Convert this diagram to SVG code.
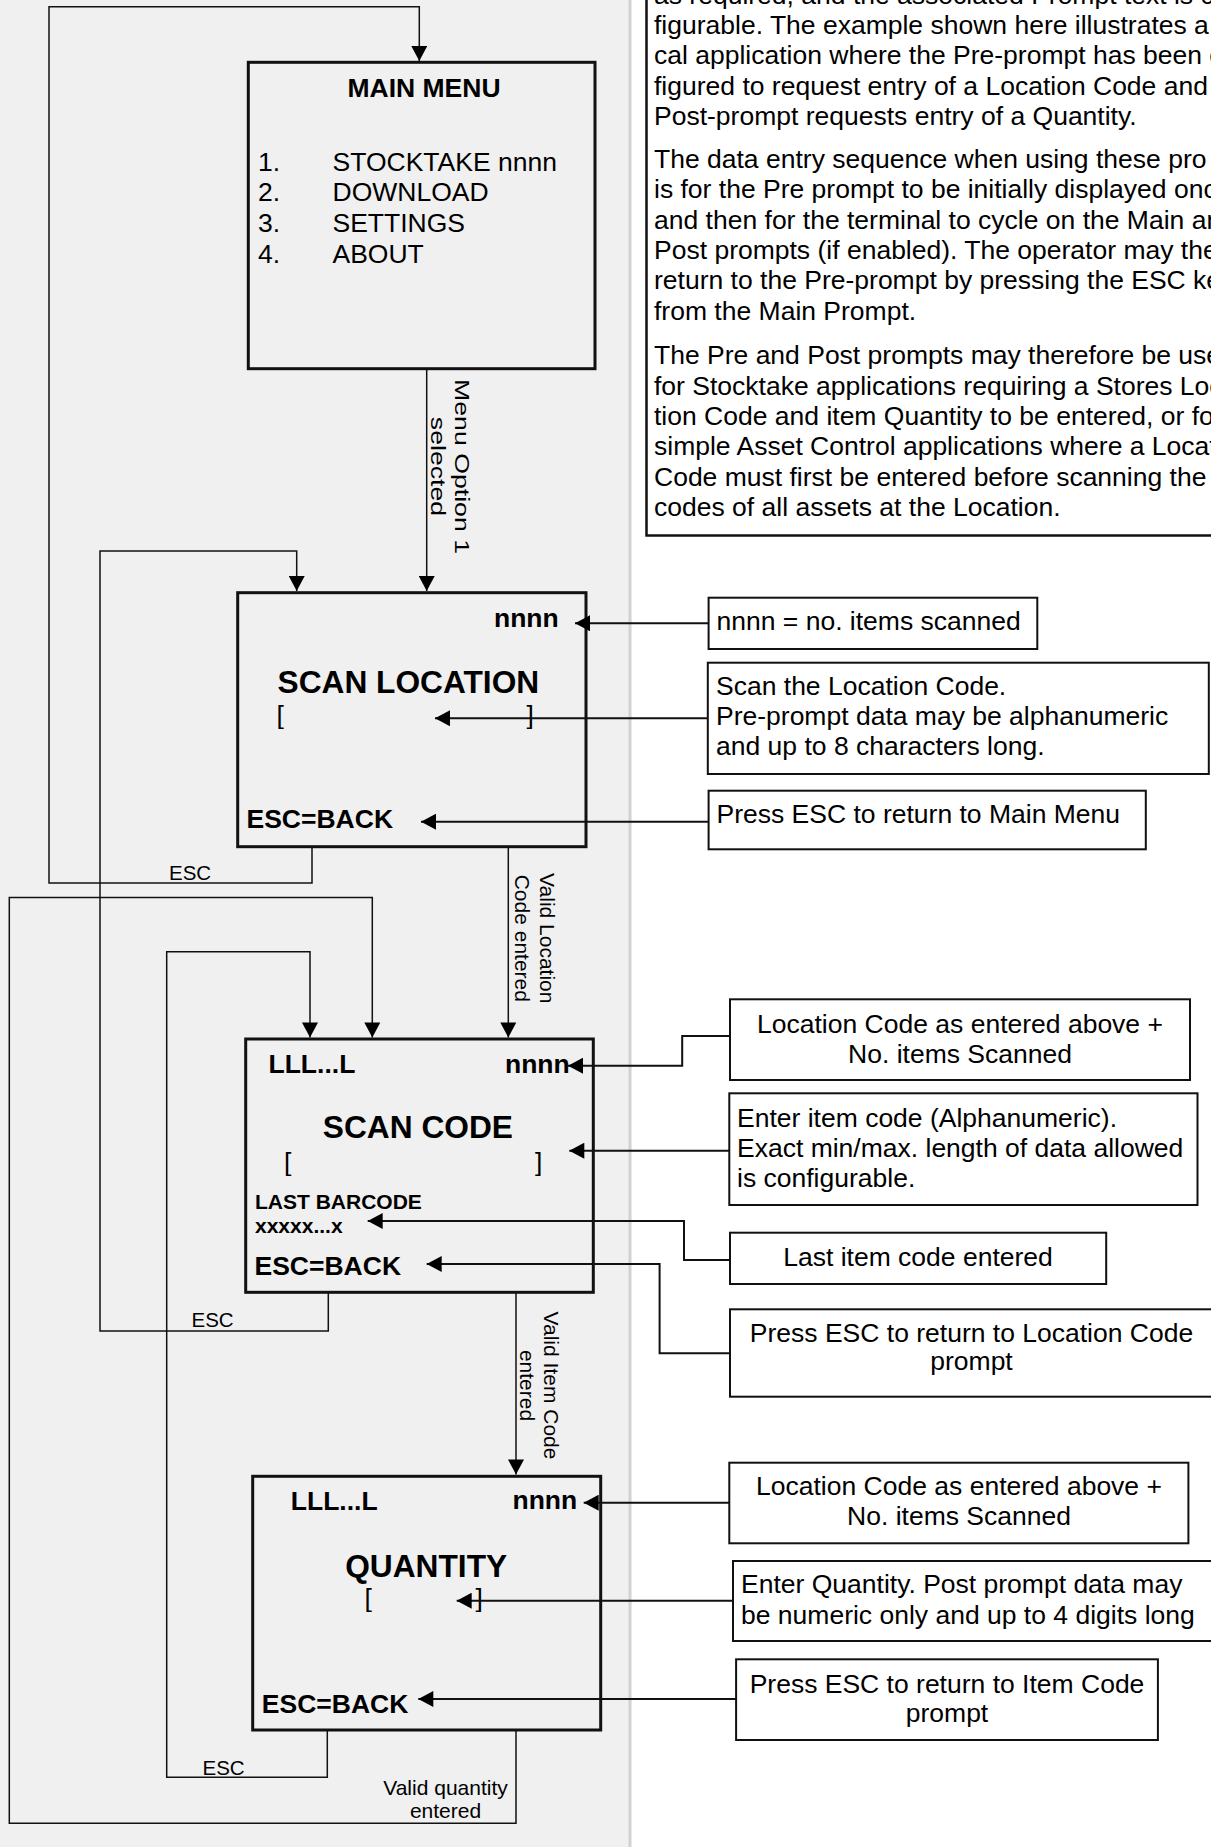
<svg xmlns="http://www.w3.org/2000/svg" width="1211" height="1847" viewBox="0 0 1211 1847">
<style>
.bg{fill:#f0f0f0}
.ln{fill:none;stroke:#111;stroke-width:1.5}
.cl{fill:none;stroke:#111;stroke-width:2}
.scr{fill:#f0f0f0;stroke:#111;stroke-width:3}
.cb{fill:#fff;stroke:#111;stroke-width:2}
text{font-family:"Liberation Sans",Arial,sans-serif;fill:#000}
.b{font-weight:bold}
.f26{font-size:26.5px}
.f32{font-size:31.7px}
.f21{font-size:21px}
.f20{font-size:20.5px}
.mid{text-anchor:middle}
</style>
<defs>
<marker id="ah" markerUnits="userSpaceOnUse" markerWidth="16" markerHeight="16" viewBox="0 0 15 16" refX="15" refY="8" orient="auto"><path d="M0,0 L15,8 L0,16 z" fill="#000"/></marker>
</defs>
<rect x="0" y="0" width="1211" height="1847" fill="#fff"/>
<rect class="bg" x="0" y="0" width="630" height="1847"/>
<line x1="630" y1="0" x2="630" y2="1847" stroke="#d2d2d2" stroke-width="3"/>

<g id="intro">
<rect x="646.5" y="-10" width="580" height="545.5" fill="#fff" stroke="#111" stroke-width="2.5"/>
<g class="f26">
<text x="654" y="3.5">as required, and the associated Prompt text is co</text>
<text x="654" y="33.9">figurable. The example shown here illustrates a t</text>
<text x="654" y="64.3">cal application where the Pre-prompt has been c</text>
<text x="654" y="94.6">figured to request entry of a Location Code and t</text>
<text x="654" y="125">Post-prompt requests entry of a Quantity.</text>
<text x="654" y="167.9">The data entry sequence when using these pro</text>
<text x="654" y="198.2">is for the Pre prompt to be initially displayed onc</text>
<text x="654" y="228.6">and then for the terminal to cycle on the Main an</text>
<text x="654" y="258.9">Post prompts (if enabled). The operator may the</text>
<text x="654" y="289.3">return to the Pre-prompt by pressing the ESC ke</text>
<text x="654" y="319.6">from the Main Prompt.</text>
<text x="654" y="364.3">The Pre and Post prompts may therefore be use</text>
<text x="654" y="394.6">for Stocktake applications requiring a Stores Loc</text>
<text x="654" y="425">tion Code and item Quantity to be entered, or for</text>
<text x="654" y="455.4">simple Asset Control applications where a Locat</text>
<text x="654" y="485.7">Code must first be entered before scanning the b</text>
<text x="654" y="516.1">codes of all assets at the Location.</text>
</g>
</g>

<g id="main-menu">
<rect class="scr" x="248.3" y="62.3" width="346.7" height="306.4"/>
<text class="b f26 mid" x="424" y="97.3">MAIN MENU</text>
<text class="f26" x="258" y="171">1.</text>
<text class="f26" x="332.5" y="171">STOCKTAKE nnnn</text>
<text class="f26" x="258" y="201">2.</text>
<text class="f26" x="332.5" y="201">DOWNLOAD</text>
<text class="f26" x="258" y="231.7">3.</text>
<text class="f26" x="332.5" y="231.7">SETTINGS</text>
<text class="f26" x="258" y="262.7">4.</text>
<text class="f26" x="332.5" y="262.7">ABOUT</text>
</g>

<g id="scan-location">
<rect class="scr" x="237.7" y="592.7" width="348.3" height="254"/>
<text class="b f26" x="494" y="626.7">nnnn</text>
<text class="b f32" x="277.5" y="692.7">SCAN LOCATION</text>
<text class="f26" x="276.5" y="724">[</text>
<text class="f26" x="526.5" y="724">]</text>
<text class="b f26" x="246.5" y="828.3">ESC=BACK</text>
</g>

<g id="scan-code">
<rect class="scr" x="245.7" y="1039" width="347.6" height="253.3"/>
<text class="b f26" x="268.5" y="1072.7">LLL...L</text>
<text class="b f26" x="505" y="1072.7">nnnn</text>
<text class="b f32" x="322.8" y="1138.3">SCAN CODE</text>
<text class="f26" x="284" y="1171">[</text>
<text class="f26" x="535" y="1171">]</text>
<text class="b f21" x="255" y="1209">LAST BARCODE</text>
<text class="b f21" x="255" y="1233.3">xxxxx...x</text>
<text class="b f26" x="254.5" y="1275">ESC=BACK</text>
</g>

<g id="quantity">
<rect class="scr" x="252.7" y="1476.3" width="348" height="253.7"/>
<text class="b f26" x="290.8" y="1510">LLL...L</text>
<text class="b f26" x="512.5" y="1509.3">nnnn</text>
<text class="b f32" x="345.2" y="1576.7">QUANTITY</text>
<text class="f26" x="364.5" y="1607">[</text>
<text class="f26" x="475.5" y="1607">]</text>
<text class="b f26" x="261.8" y="1713.3">ESC=BACK</text>
</g>

<g id="note-count">
<rect class="cb" x="708.6" y="597.7" width="328.7" height="51.3"/>
<text class="f26" x="716.5" y="630">nnnn = no. items scanned</text>
</g>
<g id="note-location">
<rect class="cb" x="707.8" y="662.7" width="501" height="111.3"/>
<text class="f26" x="716" y="695">Scan the Location Code.</text>
<text class="f26" x="716" y="725">Pre-prompt data may be alphanumeric</text>
<text class="f26" x="716" y="755">and up to 8 characters long.</text>
</g>
<g id="note-esc-main">
<rect class="cb" x="708.6" y="790.7" width="437.2" height="58.6"/>
<text class="f26" x="716.5" y="823.3">Press ESC to return to Main Menu</text>
</g>
<g id="note-loc-count-1">
<rect class="cb" x="730" y="999.3" width="460" height="80.7"/>
<text class="f26 mid" x="960" y="1032.7">Location Code as entered above +</text>
<text class="f26 mid" x="960" y="1063.3">No. items Scanned</text>
</g>
<g id="note-item">
<rect class="cb" x="729.3" y="1093.3" width="468.2" height="111.7"/>
<text class="f26" x="737" y="1126.7">Enter item code (Alphanumeric).</text>
<text class="f26" x="737" y="1157.3">Exact min/max. length of data allowed</text>
<text class="f26" x="737" y="1187.3">is configurable.</text>
</g>
<g id="note-last">
<rect class="cb" x="730" y="1232.7" width="376.2" height="51.3"/>
<text class="f26 mid" x="918" y="1266">Last item code entered</text>
</g>
<g id="note-esc-loc">
<rect class="cb" x="730" y="1309.3" width="490" height="87.4"/>
<text class="f26 mid" x="971.5" y="1341.7">Press ESC to return to Location Code</text>
<text class="f26 mid" x="971.5" y="1370">prompt</text>
</g>
<g id="note-loc-count-2">
<rect class="cb" x="729.3" y="1462.7" width="459.1" height="80.6"/>
<text class="f26 mid" x="959" y="1495">Location Code as entered above +</text>
<text class="f26 mid" x="959" y="1525">No. items Scanned</text>
</g>
<g id="note-qty">
<rect class="cb" x="733" y="1561" width="490" height="80"/>
<text class="f26" x="741" y="1593.3">Enter Quantity. Post prompt data may</text>
<text class="f26" x="741" y="1624">be numeric only and up to 4 digits long</text>
</g>
<g id="note-esc-item">
<rect class="cb" x="736.1" y="1659.3" width="421.8" height="80.7"/>
<text class="f26 mid" x="947" y="1692.7">Press ESC to return to Item Code</text>
<text class="f26 mid" x="947" y="1721.7">prompt</text>
</g>

<g id="connectors">
<path class="ln" d="M312,846.7 V883 H49 V6.7 H419.3 V61" marker-end="url(#ah)"/>
<path class="ln" d="M426.7,368.7 V591" marker-end="url(#ah)"/>
<path class="ln" d="M328.3,1292.3 V1331 H100 V551 H296.7 V591" marker-end="url(#ah)"/>
<path class="ln" d="M508.3,846.7 V1037.5" marker-end="url(#ah)"/>
<path class="ln" d="M327.3,1730 V1777.3 H166.7 V951.8 H310 V1037.5" marker-end="url(#ah)"/>
<path class="ln" d="M516,1730 V1823.3 H9.3 V897.6 H372.3 V1037.5" marker-end="url(#ah)"/>
<path class="ln" d="M516,1292.3 V1474.5" marker-end="url(#ah)"/>
<path class="cl" d="M708.6,623.3 H575" marker-end="url(#ah)"/>
<path class="cl" d="M707.8,718.3 H435" marker-end="url(#ah)"/>
<path class="cl" d="M708.6,821.7 H421" marker-end="url(#ah)"/>
<path class="cl" d="M730,1036 H682.2 V1065.7 H568" marker-end="url(#ah)"/>
<path class="cl" d="M729.3,1150.7 H569.3" marker-end="url(#ah)"/>
<path class="cl" d="M730,1260 H684 V1221 H367.7" marker-end="url(#ah)"/>
<path class="cl" d="M730,1353.3 H659.6 V1264 H426.7" marker-end="url(#ah)"/>
<path class="cl" d="M729.3,1502.7 H583.7" marker-end="url(#ah)"/>
<path class="cl" d="M733,1600.7 H456.7" marker-end="url(#ah)"/>
<path class="cl" d="M736.1,1699 H418.3" marker-end="url(#ah)"/>
<text class="f20" x="169" y="879.6">ESC</text>
<text class="f20" x="191.5" y="1327.3">ESC</text>
<text class="f20" x="202.5" y="1775">ESC</text>
<text class="f21 mid" x="445.5" y="1795">Valid quantity</text>
<text class="f21 mid" x="445.5" y="1818.3">entered</text>
<text class="f21 mid" transform="translate(454.5,466.5) rotate(90) scale(1.27,1)">Menu Option 1</text>
<text class="f21 mid" transform="translate(430.5,466.5) rotate(90) scale(1.27,1)">selected</text>
<text class="f21 mid" transform="translate(539.5,938.3) rotate(90)">Valid Location</text>
<text class="f21 mid" transform="translate(515,938.3) rotate(90)">Code entered</text>
<text class="f21 mid" transform="translate(543.5,1385.5) rotate(90)">Valid Item Code</text>
<text class="f21 mid" transform="translate(519.5,1385.5) rotate(90)">entered</text>
</g>
</svg>
